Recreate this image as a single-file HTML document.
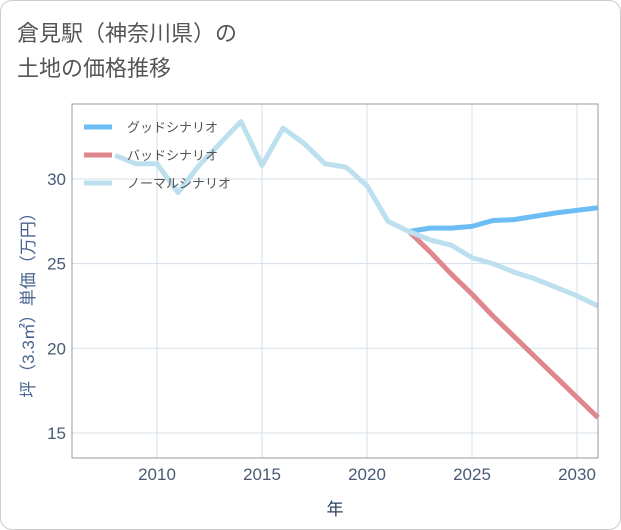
<!DOCTYPE html>
<html><head><meta charset="utf-8"><style>
body{margin:0;background:#fff;}
#card{position:absolute;left:0;top:0;width:619px;height:528px;border:1px solid #ccc;border-radius:12px;background:#fff;overflow:hidden;}
text{font-family:"Liberation Sans","Noto Sans CJK JP",sans-serif;}
</style></head><body>
<div id="card">
<svg id="chart" width="621" height="530">
<text x="16" y="40" font-size="22" fill="#555">倉見駅（神奈川県）の</text>
<text x="16" y="75" font-size="22" fill="#555">土地の価格推移</text>
<g id="grid"></g><g id="series"></g><g id="axes"></g>
<text transform="translate(33,300) rotate(-90)" text-anchor="middle" font-size="17" fill="#4a6490">坪（3.3㎡）単価（万円）</text>
<text x="334" y="514" text-anchor="middle" font-size="17" fill="#2a3f5f">年</text>
<g id="legend"></g>
</svg></div>
<script>
const normalYears=[2008,2009,2010,2011,2012,2013,2014,2015,2016,2017,2018,2019,2020,2021,2022,2023,2024,2025,2026,2027,2028,2029,2030,2031];
const normalValues=[31.4,30.9,30.9,29.2,30.8,32.1,33.4,30.8,33.0,32.1,30.9,30.7,29.6,27.5,26.9,26.4,26.1,25.35,25.0,24.5,24.1,23.6,23.1,22.5];
const goodYears=[2022,2023,2024,2025,2026,2027,2028,2029,2030,2031];
const goodValues=[26.9,27.1,27.1,27.2,27.55,27.6,27.8,28.0,28.15,28.3];
const badYears=[2022,2023,2024,2025,2026,2027,2028,2029,2030,2031];
const badValues=[26.9,25.7,24.4,23.2,21.9,20.7,19.5,18.3,17.1,15.9];
const xTicks=[2010,2015,2020,2025,2030];
const yTicks=[15,20,25,30];
const seriesNames=["グッドシナリオ","バッドシナリオ","ノーマルシナリオ"];
const L=71,R=597,T=103,B=457;
const X=y=>156+(y-2010)*21;
const Y=v=>178-(v-30)*16.93;
const NS="http://www.w3.org/2000/svg";
function mk(tag,parent,attrs){const e=document.createElementNS(NS,tag);for(const k in attrs)e.setAttribute(k,attrs[k]);parent.appendChild(e);return e;}
const grid=document.getElementById('grid'),axes=document.getElementById('axes'),ser=document.getElementById('series'),leg=document.getElementById('legend');
xTicks.forEach(t=>{
 const l=mk('line',grid,{x1:X(t),x2:X(t),y1:T,y2:B,stroke:'#d5dfea','stroke-width':1});
 
 
 const tx=mk('text',axes,{x:X(t),y:B+22,'text-anchor':'middle','font-size':17,fill:'#4a5a75'});
 tx.textContent=t;
 
 
});
yTicks.forEach(t=>{
 const l=mk('line',grid,{x1:L,x2:R,y1:Y(t),y2:Y(t),stroke:'#d5dfea','stroke-width':1});
 
 
 const tx=mk('text',axes,{x:L-6,y:Y(t)+6,'text-anchor':'end','font-size':17,fill:'#4a5a75'});
 tx.textContent=t;
 
 
});
const frame=mk('rect',axes,{x:L,y:T,width:R-L,height:B-T,fill:'none',stroke:'#999','stroke-width':1});


function line(ys,vs,color,name){
 const p=mk('polyline',ser,{points:ys.map((y,i)=>X(y)+','+Y(vs[i])).join(' '),fill:'none',stroke:color,'stroke-width':5,'stroke-linejoin':'round'});
 
 
}
line(goodYears,goodValues,'#6bbdf3','good-scenario-line');
line(badYears,badValues,'#e0868e','bad-scenario-line');
line(normalYears,normalValues,'#bde0ef','normal-scenario-line');
const colors=['#6bbdf3','#e0868e','#bde0ef'];
seriesNames.forEach((n,i)=>{
 const y=126+i*28;
 const g=mk('g',leg,{});
 
 
 mk('line',g,{x1:83,x2:111,y1:y,y2:y,stroke:colors[i],'stroke-width':5});
 const t=mk('text',g,{x:126,y:y+5,'font-size':13,fill:'#555'});
 t.textContent=n;
});
</script>
</body></html>
